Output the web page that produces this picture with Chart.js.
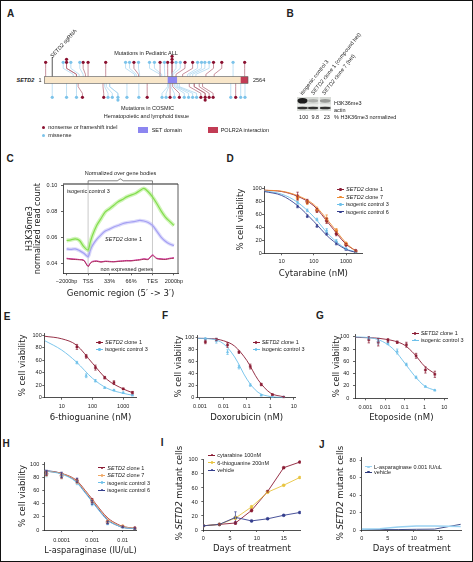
<!DOCTYPE html>
<html>
<head>
<meta charset="utf-8">
<title>SETD2 figure</title>
<script src="https://cdn.jsdelivr.net/npm/chart.js@4.4.1/dist/chart.umd.min.js"></script>
<style>
  html, body { margin: 0; padding: 0; background: #fff; }
  #fig { position: relative; width: 473px; height: 562px; overflow: hidden;
         font-family: 'Liberation Sans', Arial, sans-serif; color: #222; }
  #frame { position: absolute; left: 0; top: 0; width: 473px; height: 562px; box-sizing: border-box; border: 1.5px solid #111; }
  canvas { position: absolute; }
  .t { position: absolute; font-size: 5.5px; line-height: 6px; white-space: nowrap; }
  .letter { position: absolute; font-weight: bold; font-size: 10px; line-height: 10px; }
  .rot { transform-origin: 0 50%; }
  .yt { position: absolute; font-family: 'Liberation Sans Narrow', 'DejaVu Sans Condensed', sans-serif; font-size: 9.5px; line-height: 10px; white-space: nowrap; transform: translate(-50%, -50%) rotate(-90deg); }
  .sw { display: inline-block; position: relative; width: 7px; height: 0.8px; vertical-align: middle; margin-right: 2px; top: -0.4px; }
  .sw b { position: absolute; left: 2.3px; top: -0.9px; width: 2.5px; height: 2.5px; border-radius: 50%; }
  .dot { position: absolute; width: 3px; height: 3px; border-radius: 50%; }
  .blk { position: absolute; width: 10px; height: 6px; }
</style>
</head>
<body>
<div id="fig"><div id="frame"></div></div>
<script>
// ---------- data ----------
// A: SETD2 protein, mutations (amino-acid positions)
const PROTEIN_LEN = 2564;
const SET_DOMAIN = [1553, 1671];
const POLR2A_DOMAIN = [2472, 2564];
const SGRNA_POS = 100;
// pediatric ALL (above the bar): head position, site on protein, type (n = nonsense/indel, m = missense), stack level
const TOP_HEAD = [17, 238, 280, 280, 334, 447, 489, 551, 773, 1023, 1073, 1128, 1186, 1324, 1386, 1457, 1512, 1553, 1608, 1608, 1608, 1658, 1712, 1771, 1867, 1929, 1979, 2021, 2075, 2130, 2234, 2376, 2522];
const TOP_SITE = [17, 364, 405, 405, 439, 489, 518, 551, 773, 1136, 1157, 1186, 1199, 1457, 1478, 1457, 1516, 1553, 1608, 1608, 1608, 1603, 1620, 1658, 1741, 1804, 1833, 1867, 1908, 2034, 2138, 2376, 2522];
const TOP_TYPE = ['n','m','n','n','m','m','n','n','n','m','m','n','m','m','m','n','m','n','n','n','n','m','m','n','n','m','m','m','m','n','n','m','n'];
const TOP_LEVEL = [1,1,1,2,1,1,1,1,1,1,1,1,1,1,1,1,1,1,1,2,3,1,1,1,1,1,1,1,1,1,1,1,1];
// COSMIC hematopoietic (below the bar)
const BOT_HEAD = [100, 280, 405, 480, 748, 802, 856, 927, 927, 1040, 1190, 1295, 1482, 1533, 1583, 1637, 1700, 1762, 1816, 1867, 1917, 1971, 2025, 2025, 2075, 2125, 2347, 2409, 2472, 2526];
const BOT_SITE = [100, 280, 405, 426, 739, 760, 781, 823, 823, 1040, 1190, 1295, 1553, 1566, 1583, 1595, 1616, 1637, 1658, 1679, 1700, 1825, 1887, 1887, 1950, 1992, 2347, 2409, 2472, 2526];
const BOT_TYPE = ['m','m','m','n','n','m','m','m','m','m','m','n','m','m','n','m','n','m','m','m','m','n','n','n','n','n','m','n','m','m'];
const BOT_LEVEL = [1,1,1,1,1,1,1,1,2,1,1,1,1,1,1,1,1,1,1,1,1,1,1,2,1,1,1,1,1,1];

// B: western blot
const BLOT_LANES = ['isogenic control 3', 'SETD2 clone 1 (compound het)', 'SETD2 clone 7 (het)'];
const H3K36_NORM = [100, 9.8, 23];

// C: H3K36me3 profile over gene bodies
const C_TICKS = ['\u22122000bp', 'TSS', '33%', '66%', 'TES', '2000bp'];
const C_POS = [0, 0.2, 0.4, 0.6, 0.8, 1, 1.1, 1.2, 1.4, 1.6, 1.8, 2, 2.2, 2.4, 2.6, 2.8, 3, 3.2, 3.4, 3.6, 3.8, 4, 4.2, 4.4, 4.6, 4.8, 5];
const C_CONTROL3 = [0.0577, 0.0582, 0.059, 0.0577, 0.053, 0.0505, 0.0564, 0.0615, 0.0692, 0.0744, 0.0795, 0.082, 0.0846, 0.0872, 0.089, 0.091, 0.0923, 0.0936, 0.0956, 0.0974, 0.0949, 0.091, 0.0859, 0.0803, 0.0756, 0.0723, 0.0692];
const C_CLONE1 = [0.0513, 0.051, 0.0513, 0.05, 0.048, 0.0454, 0.05, 0.0538, 0.0585, 0.062, 0.0649, 0.0664, 0.068, 0.0692, 0.0705, 0.0713, 0.0718, 0.0723, 0.073, 0.0726, 0.0715, 0.0692, 0.0649, 0.0603, 0.0572, 0.0551, 0.0538];
const C_NONEXPR_A = [0.0442, 0.0438, 0.0436, 0.0432, 0.0428, 0.0382, 0.0405, 0.0418, 0.0422, 0.0415, 0.042, 0.0418, 0.0416, 0.042, 0.0422, 0.0425, 0.0424, 0.0428, 0.0432, 0.0438, 0.0436, 0.0468, 0.0442, 0.0438, 0.0436, 0.0442, 0.0446];
const C_NONEXPR_B = [0.0438, 0.0434, 0.0432, 0.043, 0.0424, 0.0378, 0.0402, 0.0414, 0.0418, 0.0412, 0.0417, 0.0415, 0.0414, 0.0417, 0.0419, 0.0421, 0.0421, 0.0425, 0.0428, 0.0434, 0.0432, 0.0462, 0.0438, 0.0434, 0.0432, 0.0438, 0.0442];
const C_YTICKS = [0.04, 0.06, 0.08, 0.10];

// D: cytarabine
const D_SERIES = ['SETD2 clone 1', 'SETD2 clone 7', 'isogenic control 3', 'isogenic control 6'];
const D_DOSE = [31.25, 62.5, 125, 250, 500, 1000, 2000];
const D_FIT_X = [2.9, 10, 30, 100, 300, 1000, 2000];
const D_CLONE1 = [88, 80, 66, 50, 30, 13, 4];
const D_CLONE1_ERR = [6, 3, 3, 4, 3, 2, 1];
const D_CLONE1_FIT = [97, 95, 88, 73, 45, 14, 4];
const D_CLONE7 = [85, 78, 67, 53, 35, 15, 3];
const D_CLONE7_ERR = [3, 3, 4, 6, 3, 2, 1];
const D_CLONE7_FIT = [97, 95.5, 89, 75, 48, 16, 3];
const D_CTRL3 = [78, 66, 52, 35, 19, 7, 2];
const D_CTRL3_ERR = [2, 2, 2, 3, 2, 1, 1];
const D_CTRL3_FIT = [96, 91, 79, 56, 28, 7, 2];
const D_CTRL6 = [72, 57, 42, 30, 15, 6, 2];
const D_CTRL6_ERR = [2, 2, 2, 2, 2, 1, 1];
const D_CTRL6_FIT = [95, 89, 74, 49, 24, 6, 1.5];

// E: 6-thioguanine
const PAIR_SERIES = ['SETD2 clone 1', 'isogenic control 3'];
const E_DOSE = [31.25, 62.5, 125, 250, 500, 1000, 2000];
const E_FIT_X = [2.8, 10, 30, 100, 300, 1000, 2000];
const E_CLONE1 = [81, 66, 48, 32, 24, 14, 8];
const E_CLONE1_ERR = [4, 3, 4, 2, 3, 1, 2];
const E_CLONE1_FIT = [98, 94, 84, 55, 29, 14, 8];
const E_CTRL3 = [56, 35, 27, 16, 12, 8, 4];
const E_CTRL3_ERR = [2, 3, 2, 1, 1, 1, 1];
const E_CTRL3_FIT = [91, 76, 57, 31, 15, 7, 4];

// F: doxorubicin
const F_DOSE = [0.0017, 0.005, 0.015, 0.046, 0.14, 0.41, 1.23, 3.7];
const F_FIT_X = [0.0008, 0.003, 0.01, 0.03, 0.1, 0.3, 1, 3.7];
const F_CLONE1 = [93, 97, 88, 76, 52, 22, 5, 1];
const F_CLONE1_ERR = [3, 2, 4, 2, 4, 2, 1, 1];
const F_CLONE1_FIT = [99, 98.5, 95, 86, 62, 30, 8, 1.5];
const F_CTRL3 = [98, 95, 76, 51, 21, 4, 1, 1];
const F_CTRL3_ERR = [2, 4, 4, 3, 2, 1, 0, 0];
const F_CTRL3_FIT = [99, 98, 90, 68, 31, 9, 2, 0.3];

// G: etoposide
const G_DOSE = [0.0015, 0.0045, 0.014, 0.041, 0.12, 0.37, 1.1, 3.3];
const G_FIT_X = [0.00032, 0.001, 0.003, 0.01, 0.03, 0.1, 0.3, 1, 3.3];
const G_CLONE1 = [95, 91, 94, 91, 87, 69, 46, 39];
const G_CLONE1_ERR = [5, 6, 3, 2, 4, 4, 5, 5];
const G_CLONE1_FIT = [99, 98.5, 98, 96, 93, 86, 72, 52, 40];
const G_CTRL3 = [98, 93, 89, 76, 55, 34, 19, 13];
const G_CTRL3_ERR = [2, 5, 2, 4, 2, 2, 1, 1];
const G_CTRL3_FIT = [99.5, 99, 97, 90, 78, 57, 37, 20, 13];

// H: L-asparaginase
const H_DOSE = [0.000032, 0.0001, 0.00032, 0.001, 0.0032, 0.01, 0.025];
const H_FIT_X = [0.0000275, 0.0001, 0.0003, 0.0006, 0.001, 0.002, 0.0033, 0.0066, 0.01, 0.025];
const H_CLONE1 = [86, 83, 75, 45, 12, 5, 3];
const H_CLONE1_FIT = [90, 86, 76, 60, 47, 29, 18, 9, 5.5, 2.5];
const H_CLONE7 = [85, 82, 74, 44, 13, 6, 2];
const H_CLONE7_FIT = [90, 86, 75, 59, 46, 28, 17, 8, 5, 2.5];
const H_CTRL3 = [84, 82, 72, 40, 10, 4, 2];
const H_CTRL3_FIT = [90, 85, 73, 56, 43, 25, 14, 7, 4, 2];
const H_CTRL6 = [88, 84, 76, 42, 11, 5, 2];
const H_CTRL6_FIT = [91, 86, 74, 57, 44, 26, 15, 7, 4, 2];
const H_ERR = [3, 4, 3, 3, 2, 1, 1];

// I: competition assay
const I_SERIES = ['cytarabine 100nM', '6-thioguanine 200nM', 'vehicle'];
const I_DAYS = [0, 3, 6, 9, 12, 15, 18];
const I_CYT = [6, 8, 10, 28, 55, 89, 97];
const I_CYT_ERR = [0, 1, 2, 2, 1, 1, 1];
const I_THIO = [6, 8, 17, 33, 54, 64, 75];
const I_THIO_ERR = [0, 1, 2, 2, 1, 1, 1];
const I_VEH = [6, 8, 18, 13, 16, 21, 25];
const I_VEH_ERR = [0, 1, 8, 1, 1, 1, 1];

// J
const J_SERIES = ['L-asparaginase 0.001 IU/uL', 'vehicle'];
const J_DAYS = [0, 3.5, 7, 10.5, 14, 19];
const J_ASP = [1, 1.5, 3.5, 4.5, 4.5, 4];
const J_VEH = [0.5, 0.5, 0.5, 0.8, 1, 6.5];

const VIAB_TICKS = [0, 20, 40, 60, 80, 100];

// ---------- styles ----------
const FONT = "'Liberation Sans', Arial, sans-serif";
const NARROW = "'Liberation Sans Narrow', 'DejaVu Sans Condensed', 'Liberation Sans', sans-serif";
const DARK_RED = '#8b1c34', ORANGE = '#ee8b33', SKY = '#6dc0ea', NAVY = '#353f8e', GOLD = '#e8c440';
const NONSENSE = '#8a1030', MISSENSE = '#7cc3ea';
Chart.defaults.font.family = FONT;
Chart.defaults.color = '#222';

const fig = document.getElementById('fig');

function put(html, x, y, cls, style) {
    const d = document.createElement('div');
    d.className = cls || 't';
    d.style.left = x + 'px';
    d.style.top = y + 'px';
    if (style) d.style.cssText += style;
    d.innerHTML = html;
    fig.appendChild(d);
    return d;
}

function place(id, box) {
    const c = document.createElement('canvas');
    c.id = id;
    c.width = box.r - box.l;
    c.height = box.b - box.t;
    c.style.left = box.l + 'px';
    c.style.top = box.t + 'px';
    c.style.width = c.width + 'px';
    c.style.height = c.height + 'px';
    fig.appendChild(c);
    return c;
}

const ital = s => s.replace('SETD2', '<i>SETD2</i>');

function legend(x, y, dy, names, colors) {
    names.forEach((n, i) => {
        put('<span class="sw" style="background:' + colors[i] + '"><b style="background:' + colors[i] + '"></b></span>' + ital(n),
            x, y + i * dy - 3);
    });
}

// error bars for datasets carrying an errs array
const errorBars = {
    id: 'errorBars',
    afterDatasetsDraw(chart) {
        const ctx = chart.ctx, ys = chart.scales.y;
        chart.data.datasets.forEach((ds, i) => {
            if (!ds.errs) return;
            const meta = chart.getDatasetMeta(i);
            ctx.save();
            ctx.strokeStyle = ds.borderColor;
            ctx.lineWidth = 0.7;
            meta.data.forEach((pt, j) => {
                const e = ds.errs[j];
                if (!e) return;
                const v = ds.data[j].y;
                const y1 = ys.getPixelForValue(v + e), y2 = ys.getPixelForValue(Math.max(v - e, 0));
                ctx.beginPath();
                ctx.moveTo(pt.x, y1); ctx.lineTo(pt.x, y2);
                ctx.moveTo(pt.x - 1.2, y1); ctx.lineTo(pt.x + 1.2, y1);
                ctx.moveTo(pt.x - 1.2, y2); ctx.lineTo(pt.x + 1.2, y2);
                ctx.stroke();
            });
            ctx.restore();
        });
    }
};

function axisOpts(o) {
    return {
        type: o.type, min: o.min, max: o.max,
        afterBuildTicks: s => { s.ticks = o.ticks.map(v => ({ value: v })); },
        ticks: {
            autoSkip: false, maxRotation: 0, padding: o.pad, color: '#222',
            font: { size: 5.5, lineHeight: 1 },
            callback: o.fmt || (v => String(v))
        },
        grid: { drawOnChartArea: false, drawTicks: true, tickLength: 2, tickWidth: 0.7, tickColor: '#222' },
        border: { display: true, color: '#222', width: 0.8 },
        title: o.title ? {
            display: true, text: o.title, color: '#222',
            font: { family: NARROW, size: o.titleSize || 9.5, lineHeight: o.titleLH || 1 },
            padding: o.titlePad
        } : { display: false }
    };
}

function panel(p) {
    const canvas = place(p.id, p.box);
    const xh = p.box.b - p.area.b, yw = p.area.l - p.box.l;
    const xs = axisOpts({ type: p.xType, min: p.xMin, max: p.xMax, ticks: p.xTicks, fmt: p.xFmt, pad: p.xPad,
                          title: p.xTitle, titlePad: { top: 0, bottom: p.xTitlePad } });
    const ys = axisOpts({ type: 'linear', min: p.yMin || 0, max: p.yMax, ticks: p.yTicks, fmt: p.yFmt, pad: p.yPad,
                          title: p.yTitle, titlePad: { top: p.yTitlePad, bottom: 0 }, titleSize: p.yTitleSize, titleLH: p.yTitleLH });
    xs.afterFit = s => { s.height = xh; s.paddingLeft = 0; s.paddingRight = 0; };
    ys.afterFit = s => { s.width = yw; s.paddingTop = 0; s.paddingBottom = 0; };
    return new Chart(canvas, {
        type: 'line',
        data: { datasets: p.datasets },
        options: {
            responsive: false, maintainAspectRatio: false, animation: false, devicePixelRatio: 1,
            layout: { padding: { left: 0, top: p.area.t - p.box.t, right: p.box.r - p.area.r, bottom: 0 } },
            plugins: { legend: { display: false }, tooltip: { enabled: false } },
            scales: { x: xs, y: ys }
        },
        plugins: [errorBars].concat(p.plugins || [])
    });
}

function series(fitX, fitY, dose, vals, errs, color, style) {
    const out = [];
    if (fitX) {
        out.push({ data: fitX.map((x, i) => ({ x, y: fitY[i] })), borderColor: color, borderWidth: 0.9,
                   pointRadius: 0, cubicInterpolationMode: 'monotone', fill: false });
    }
    out.push({ data: dose.map((x, i) => ({ x, y: vals[i] })), showLine: !fitX, borderColor: color,
               backgroundColor: color, borderWidth: 0.9, pointRadius: 1.5, pointStyle: style || 'circle',
               pointBorderWidth: 0.4, errs });
    return out;
}

// ---------- panel letters ----------
[['A', 7.1, 9.2], ['B', 286.5, 8.5], ['C', 6.4, 153.5], ['D', 226.4, 153.5], ['E', 3.7, 311.8],
 ['F', 161.9, 310.5], ['G', 316, 311.2], ['H', 2.4, 438.5], ['I', 160.8, 437.8], ['J', 318.9, 439.5]]
    .forEach(([l, x, y]) => put(l, x, y, 'letter'));

// ---------- A: lollipop plot ----------
const A_BAR_HALF = 3.3;
const headY = (side, level) => side > 0 ? 17.7 + (level - 1) * 3 : -17.3 - (level - 1) * 2.8;

const lollipopPlugin = {
    id: 'lollipops',
    beforeDatasetsDraw(chart) {
        const { ctx, scales: { x, y } } = chart;
        ctx.save();
        ctx.lineWidth = 0.7;
        const stems = (heads, sites, types, levels, side, b1, b2) => {
            heads.forEach((h, i) => {
                const x0 = x.getPixelForValue(sites[i]), x1 = x.getPixelForValue(h);
                ctx.strokeStyle = types[i] === 'n' ? '#b06272' : '#a3d3ef';
                ctx.beginPath();
                ctx.moveTo(x0, y.getPixelForValue(side * A_BAR_HALF));
                ctx.lineTo(x0, y.getPixelForValue(side * b1));
                ctx.lineTo(x1, y.getPixelForValue(side * b2));
                ctx.lineTo(x1, y.getPixelForValue(headY(side, levels[i])));
                ctx.stroke();
            });
        };
        stems(TOP_HEAD, TOP_SITE, TOP_TYPE, TOP_LEVEL, 1, 5.7, 11.7);
        stems(BOT_HEAD, BOT_SITE, BOT_TYPE, BOT_LEVEL, -1, 6.7, 13.3);
        // sgRNA marker
        ctx.strokeStyle = '#111';
        ctx.beginPath();
        ctx.moveTo(x.getPixelForValue(SGRNA_POS), y.getPixelForValue(A_BAR_HALF));
        ctx.lineTo(x.getPixelForValue(SGRNA_POS), y.getPixelForValue(23));
        ctx.stroke();
        // protein bar with domains
        const bx0 = x.getPixelForValue(0), bx1 = x.getPixelForValue(PROTEIN_LEN);
        const by0 = y.getPixelForValue(A_BAR_HALF), by1 = y.getPixelForValue(-A_BAR_HALF);
        ctx.fillStyle = '#f8e6c9';
        ctx.fillRect(bx0, by0, bx1 - bx0, by1 - by0);
        ctx.fillStyle = '#8c86f0';
        ctx.fillRect(x.getPixelForValue(SET_DOMAIN[0]), by0, x.getPixelForValue(SET_DOMAIN[1]) - x.getPixelForValue(SET_DOMAIN[0]), by1 - by0);
        ctx.fillStyle = '#c23c55';
        ctx.fillRect(x.getPixelForValue(POLR2A_DOMAIN[0]), by0, x.getPixelForValue(POLR2A_DOMAIN[1]) - x.getPixelForValue(POLR2A_DOMAIN[0]), by1 - by0);
        ctx.strokeStyle = '#555';
        ctx.lineWidth = 0.6;
        ctx.strokeRect(bx0, by0, bx1 - bx0, by1 - by0);
        ctx.restore();
    }
};

function heads(hs, types, levels, side, kind) {
    const pts = [];
    hs.forEach((h, i) => { if (types[i] === kind) pts.push({ x: h, y: headY(side, levels[i]) }); });
    return pts;
}

(function () {
    const box = { l: 40, t: 40, r: 252, b: 120 };
    const canvas = place('lolli', box);
    const mk = (data, color) => ({ data, backgroundColor: color, borderWidth: 0, pointRadius: 1.6, clip: false });
    new Chart(canvas, {
        type: 'scatter',
        data: { datasets: [
            mk(heads(TOP_HEAD, TOP_TYPE, TOP_LEVEL, 1, 'm'), MISSENSE),
            mk(heads(TOP_HEAD, TOP_TYPE, TOP_LEVEL, 1, 'n'), NONSENSE),
            mk(heads(BOT_HEAD, BOT_TYPE, BOT_LEVEL, -1, 'm'), MISSENSE),
            mk(heads(BOT_HEAD, BOT_TYPE, BOT_LEVEL, -1, 'n'), NONSENSE)
        ] },
        options: {
            responsive: false, animation: false, devicePixelRatio: 1,
            layout: { padding: { left: 4.3, right: 3, top: 5, bottom: 5 } },
            plugins: { legend: { display: false }, tooltip: { enabled: false } },
            scales: {
                x: { type: 'linear', min: 0, max: PROTEIN_LEN, display: false },
                y: { type: 'linear', min: -35, max: 35, display: false }
            }
        },
        plugins: [lollipopPlugin]
    });
})();

put('<b><i>SETD2</i></b>', 16.5, 77);
put('1', 38.6, 77);
put(String(PROTEIN_LEN), 253, 77);
put('<i>SETD2</i> sgRNA', 50.5, 54, 't rot', 'transform: rotate(-48deg);');
put('Mutations in Pediatric ALL', 146, 49.7, 't', 'transform: translateX(-50%);');
put('Mutations in COSMIC', 147.5, 105.3, 't', 'transform: translateX(-50%);');
put('Hematopoietic and lymphoid tissue', 146.5, 113, 't', 'transform: translateX(-50%);');
put('', 41.8, 125.8, 'dot', 'background:' + NONSENSE);
put('nonsense or frameshift indel', 48.3, 124.3);
put('', 41.8, 133.5, 'dot', 'background:' + MISSENSE);
put('missense', 48.3, 132);
put('', 138.3, 126.7, 'blk', 'background:#8c86f0');
put('SET domain', 151.7, 127);
put('', 208.3, 126.7, 'blk', 'background:#c23c55');
put('POLR2A interaction', 220.7, 127);

// ---------- B: western blot ----------
(function () {
    const c = place('blot', { l: 297, t: 97, r: 331, b: 111 });
    const g = c.getContext('2d');
    g.fillStyle = '#d8dbd7';
    g.fillRect(0, 0, 34, 14);
    const lanes = [[0.5, 10.5], [11, 21.2], [22.8, 33.5]];
    lanes.forEach(([a, b], i) => {
        const k = H3K36_NORM[i] / 100;
        g.fillStyle = 'rgba(20,20,20,' + (0.15 + 0.8 * k) + ')';
        g.beginPath();
        g.ellipse((a + b) / 2, 3.8, (b - a) / 2, 1.6 + k * 1.2, 0, 0, Math.PI * 2);
        g.fill();
        g.fillStyle = 'rgba(25,25,25,0.88)';
        g.beginPath();
        g.ellipse((a + b) / 2, 11, (b - a) / 2 + 0.3, 1.3, 0, 0, Math.PI * 2);
        g.fill();
    });
    g.fillStyle = '#fff';
    g.fillRect(21.6, 0, 0.9, 14);
    g.fillRect(0, 7.6, 34, 0.9);
})();
BLOT_LANES.forEach((lab, i) => put(ital(lab), 300.5 + i * 11, 91, 't rot', 'transform: rotate(-52deg);'));
put('H3K36me3', 334, 99.8);
put('actin', 334, 106.5);
[303.7, 315.3, 326.7].forEach((cx, i) => put(String(H3K36_NORM[i]), cx, 114, 't', 'transform: translateX(-50%);'));
put('% H3K36me3 normalized', 334, 114);

// ---------- C: H3K36me3 profile ----------
const cDecor = {
    id: 'cDecor',
    beforeDatasetsDraw(chart) {
        const { ctx, chartArea: a, scales: { x } } = chart;
        ctx.save();
        ctx.strokeStyle = '#bdbdbd';
        ctx.lineWidth = 0.8;
        [1, 4].forEach(v => {
            const px = x.getPixelForValue(v);
            ctx.beginPath(); ctx.moveTo(px, a.top); ctx.lineTo(px, a.bottom); ctx.stroke();
        });
        ctx.restore();
    },
    afterDraw(chart) {
        const { ctx, chartArea: a, scales: { x } } = chart;
        ctx.save();
        ctx.strokeStyle = '#6a6a6a';
        ctx.lineWidth = 1.6;
        ctx.beginPath(); ctx.moveTo(a.left, a.top); ctx.lineTo(a.right, a.top); ctx.stroke();
        ctx.strokeStyle = '#333';
        ctx.lineWidth = 0.8;
        ctx.beginPath(); ctx.moveTo(a.right, a.top); ctx.lineTo(a.right, a.bottom); ctx.stroke();
        const x1 = x.getPixelForValue(1), x2 = x.getPixelForValue(4), xm = (x1 + x2) / 2;
        const y0 = a.top - 0.5, y1 = a.top - 3.2;
        ctx.lineWidth = 0.6;
        ctx.beginPath();
        ctx.moveTo(x1, y0); ctx.lineTo(x1, y1); ctx.lineTo(xm - 3, y1); ctx.lineTo(xm, y1 - 2);
        ctx.lineTo(xm + 3, y1); ctx.lineTo(x2, y1); ctx.lineTo(x2, y0);
        ctx.stroke();
        ctx.restore();
    }
};
const cLine = (vals, color, w) => ({ data: C_POS.map((x, i) => ({ x, y: vals[i] })), borderColor: color,
                                      borderWidth: w, pointRadius: 0, tension: 0.3, fill: false });
panel({
    id: 'chartC', box: { l: 20, t: 165, r: 186, b: 301 }, area: { l: 63, t: 184, r: 178, b: 273.3 },
    xType: 'linear', xMin: -0.17, xMax: 5.19, xTicks: [0, 1, 2, 3, 4, 5], xFmt: v => C_TICKS[Math.round(v)], xPad: 3.5,
    xTitle: "Genomic region (5\u2032 -> 3\u2032)", xTitlePad: 2.25,
    yMin: 0.0327, yMax: 0.1008, yTicks: C_YTICKS, yFmt: v => v.toFixed(2), yPad: 3.7,
    yTitle: ['H3K36me3', 'normalized read count'], yTitlePad: 5, yTitleSize: 9, yTitleLH: 0.95,
    datasets: [
        cLine(C_CONTROL3, 'rgba(150,230,100,0.45)', 4),
        cLine(C_CLONE1, 'rgba(170,165,245,0.4)', 3.5),
        cLine(C_CONTROL3, '#74d63c', 1.2),
        cLine(C_CLONE1, '#a29ef2', 1.2),
        cLine(C_NONEXPR_B, '#a8325c', 1),
        cLine(C_NONEXPR_A, '#d0229a', 1)
    ],
    plugins: [cDecor]
});
put('Normalized over gene bodies', 120.5, 170.2, 't', 'transform: translateX(-50%);');
put('isogenic control 3', 67, 188);
put('<i>SETD2</i> clone 1', 105, 236);
put('non expressed genes', 100.5, 266.3);

// ---------- D–H: viability ----------
const logFmt = v => String(v);
panel({
    id: 'chartD', box: { l: 236, t: 180, r: 368, b: 281 }, area: { l: 264, t: 186, r: 362.7, b: 253.3 },
    xType: 'logarithmic', xMin: 2.83, xMax: 3290, xTicks: [10, 100, 1000], xFmt: logFmt, xPad: 3.4,
    xTitle: 'Cytarabine (nM)', xTitlePad: 2.95,
    yMax: 103.5, yTicks: VIAB_TICKS, yPad: 0.3, yTitle: '% cell viability', yTitlePad: 0,
    datasets: [].concat(
        series(D_FIT_X, D_CTRL6_FIT, D_DOSE, D_CTRL6, D_CTRL6_ERR, NAVY, 'triangle'),
        series(D_FIT_X, D_CTRL3_FIT, D_DOSE, D_CTRL3, D_CTRL3_ERR, SKY, 'triangle'),
        series(D_FIT_X, D_CLONE7_FIT, D_DOSE, D_CLONE7, D_CLONE7_ERR, ORANGE),
        series(D_FIT_X, D_CLONE1_FIT, D_DOSE, D_CLONE1, D_CLONE1_ERR, DARK_RED))
});
legend(337, 189.3, 7.45, D_SERIES, [DARK_RED, ORANGE, SKY, NAVY]);

panel({
    id: 'chartE', box: { l: 16, t: 328, r: 141, b: 425 }, area: { l: 44.3, t: 333, r: 136.7, b: 397.7 },
    xType: 'logarithmic', xMin: 2.72, xMax: 2723, xTicks: [10, 100, 1000], xFmt: logFmt, xPad: 4.2,
    xTitle: '6-thioguanine (nM)', xTitlePad: 2.25,
    yMax: 103.2, yTicks: VIAB_TICKS, yPad: 0.6, yTitle: '% cell viability', yTitlePad: 1.45,
    datasets: [].concat(
        series(E_FIT_X, E_CTRL3_FIT, E_DOSE, E_CTRL3, E_CTRL3_ERR, SKY, 'triangle'),
        series(E_FIT_X, E_CLONE1_FIT, E_DOSE, E_CLONE1, E_CLONE1_ERR, DARK_RED, 'rect'))
});
legend(96, 342.3, 7, PAIR_SERIES, [DARK_RED, SKY]);

panel({
    id: 'chartF', box: { l: 172, t: 328, r: 300, b: 425 }, area: { l: 197.7, t: 335.5, r: 296.7, b: 397.7 },
    xType: 'logarithmic', xMin: 0.0008, xMax: 12, xTicks: [0.001, 0.01, 0.1, 1, 10], xFmt: logFmt, xPad: 4,
    xTitle: 'Doxorubicin (nM)', xTitlePad: 2.25,
    yMax: 103.7, yTicks: VIAB_TICKS, yPad: 1.4, yTitle: '% cell viability', yTitlePad: 1.95,
    datasets: [].concat(
        series(F_FIT_X, F_CTRL3_FIT, F_DOSE, F_CTRL3, F_CTRL3_ERR, SKY, 'triangle'),
        series(F_FIT_X, F_CLONE1_FIT, F_DOSE, F_CLONE1, F_CLONE1_ERR, DARK_RED, 'rect'))
});
legend(252.7, 342.3, 7, PAIR_SERIES, [DARK_RED, SKY]);

panel({
    id: 'chartG', box: { l: 330, t: 328, r: 452, b: 425 }, area: { l: 355, t: 334.5, r: 448.3, b: 398.3 },
    xType: 'logarithmic', xMin: 0.000316, xMax: 14.6, xTicks: [0.001, 0.01, 0.1, 1, 10], xFmt: logFmt, xPad: 4,
    xTitle: 'Etoposide (nM)', xTitlePad: 2.25,
    yMax: 103.6, yTicks: VIAB_TICKS, yPad: 3.7, yTitle: '% cell viability', yTitlePad: 1.45,
    datasets: [].concat(
        series(G_FIT_X, G_CTRL3_FIT, G_DOSE, G_CTRL3, G_CTRL3_ERR, SKY, 'triangle'),
        series(G_FIT_X, G_CLONE1_FIT, G_DOSE, G_CLONE1, G_CLONE1_ERR, DARK_RED, 'rect'))
});
legend(411.7, 333.3, 6.7, PAIR_SERIES, [DARK_RED, SKY]);

panel({
    id: 'chartH', box: { l: 16, t: 455, r: 141, b: 558 }, area: { l: 44.3, t: 462, r: 137.3, b: 530 },
    xType: 'logarithmic', xMin: 0.0000272, xMax: 0.0285, xTicks: [0.0001, 0.001, 0.01], xFmt: logFmt, xPad: 5.5,
    xTitle: 'L-asparaginase (IU/uL)', xTitlePad: 2.25,
    yMax: 103.5, yTicks: VIAB_TICKS, yPad: 3, yTitle: '% cell viability', yTitlePad: 1.45,
    datasets: [].concat(
        series(H_FIT_X, H_CTRL3_FIT, H_DOSE, H_CTRL3, H_ERR, SKY, 'triangle'),
        series(H_FIT_X, H_CLONE7_FIT, H_DOSE, H_CLONE7, H_ERR, '#f0a866'),
        series(H_FIT_X, H_CLONE1_FIT, H_DOSE, H_CLONE1, H_ERR, DARK_RED),
        series(H_FIT_X, H_CTRL6_FIT, H_DOSE, H_CTRL6, H_ERR, NAVY, 'triangle'))
});
legend(98.3, 467.7, 7.45, D_SERIES, [DARK_RED, '#f0a866', SKY, NAVY]);

// ---------- I, J: competition ----------
panel({
    id: 'chartI', box: { l: 171, t: 452, r: 305, b: 558 }, area: { l: 203.3, t: 459, r: 301.7, b: 530 },
    xType: 'linear', xMin: 0, xMax: 18.15, xTicks: [0, 5, 10, 15], xPad: 4,
    xTitle: 'Days of treatment', xTitlePad: 4.75,
    yMax: 101.4, yTicks: VIAB_TICKS, yPad: 3.6,
    datasets: [].concat(
        series(null, null, I_DAYS, I_VEH, I_VEH_ERR, NAVY),
        series(null, null, I_DAYS, I_THIO, I_THIO_ERR, GOLD),
        series(null, null, I_DAYS, I_CYT, I_CYT_ERR, DARK_RED))
});
legend(208.3, 455, 7.5, I_SERIES, [DARK_RED, GOLD, NAVY]);
put('% <i>SETD2</i> mutant cells', 178.7, 493.3, 'yt');

panel({
    id: 'chartJ', box: { l: 333, t: 452, r: 466, b: 558 }, area: { l: 361.7, t: 457.5, r: 461.7, b: 530 },
    xType: 'linear', xMin: 0, xMax: 19.2, xTicks: [0, 5, 10, 15], xPad: 4,
    xTitle: 'Days of treatment', xTitlePad: 4.75,
    yMax: 82.9, yTicks: [0, 20, 40, 60, 80], yPad: 4,
    datasets: [
        { data: J_DAYS.map((x, i) => ({ x, y: J_ASP[i] })), borderColor: '#9ad2f2', borderWidth: 1.6, pointRadius: 0 },
        { data: J_DAYS.map((x, i) => ({ x, y: J_VEH[i] })), borderColor: '#2f3c7e', borderWidth: 0.9, pointRadius: 0 }
    ]
});
legend(365, 466.7, 5.2, J_SERIES, ['#9ad2f2', '#2f3c7e']);
put('% <i>SETD2</i> mutant cells', 340, 493, 'yt');
</script>
</body>
</html>
